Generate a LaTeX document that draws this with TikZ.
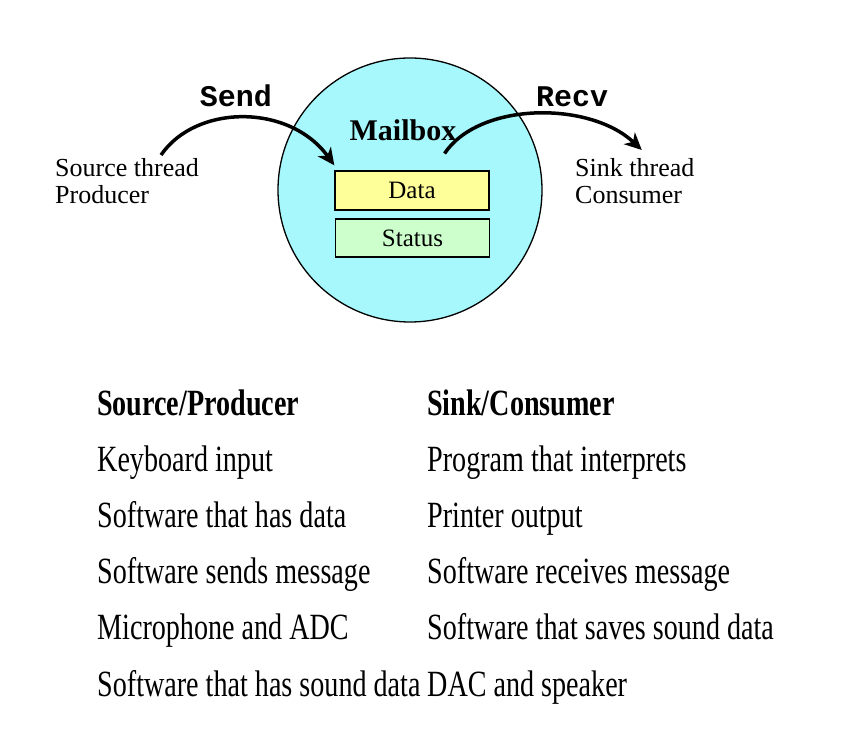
\documentclass[tikz,border=0pt]{standalone}
\usepackage{fontspec}
\setmainfont{Liberation Serif}
\newfontfamily\tablefont[FakeStretch=0.76]{Liberation Serif}
\newfontfamily\codefont{Liberation Mono}
\usetikzlibrary{arrows.meta}
\definecolor{mbcyan}{RGB}{166,248,252}
\definecolor{datayellow}{RGB}{255,255,153}
\definecolor{statgreen}{RGB}{204,255,204}

\begin{document}
\begin{tikzpicture}[x=1pt,y=1pt,
    flow/.style={line width=3.5pt,-{Stealth[length=17pt,width=16pt,inset=5pt]}},
    slot/.style={draw,line width=1.3pt,minimum width=154pt,minimum height=39pt,inner sep=0pt,font=\fontsize{25}{27}\selectfont},
    thread/.style={align=left,anchor=north west,inner sep=0pt,font=\fontsize{26}{27}\selectfont},
    call/.style={anchor=base,inner sep=0pt,font=\codefont\bfseries\fontsize{30}{32}\selectfont},
    cell/.style={anchor=base west,inner sep=0pt,font=\tablefont\fontsize{37}{40}\selectfont}]
        \useasboundingbox (0,0) rectangle (848,736);
        % mailbox
        \node[circle,draw,line width=1.3pt,fill=mbcyan,minimum size=264pt] (mailbox) at (410,546) {};
        \node[anchor=base,inner sep=0pt,font=\bfseries\fontsize{30}{32}\selectfont] (mbtitle) at (403,595) {Mailbox};
        \node[slot,fill=datayellow] (data) at (412,545.5) {Data};
        \node[slot,fill=statgreen,minimum height=38pt] (status) at (412.5,498) {Status};
        % threads
        \node[thread] (src) at (55,578) {Source thread\\Producer};
        \node[thread] (snk) at (575,578) {Sink thread\\Consumer};
        \node[call] (send) at (236,629) {Send};
        \node[call] (recv) at (572,629) {Recv};
        \draw[flow] ([xshift=34pt,yshift=3pt]src.north) .. controls +(35,51) and +(-45,62) .. ([yshift=5pt]data.north west);
        \draw[flow] ([xshift=-12pt,yshift=-12pt]mbtitle.south east) .. controls +(35,52) and +(-52,49) .. ([xshift=7pt,yshift=8pt]snk.north);
        % table
        \node[cell,font=\tablefont\bfseries\fontsize{37}{40}\selectfont] (prodhead) at (97,320) {Source/Producer};
        \node[cell,font=\tablefont\bfseries\fontsize{37}{40}\selectfont] (conshead) at (427,320) {Sink/Consumer};
        \foreach \i/\a/\b in {1/Keyboard input/Program that interprets,
                              2/Software that has data/Printer output,
                              3/Software sends message/Software receives message,
                              4/Microphone and ADC/Software that saves sound data,
                              5/Software that has sound data/DAC and speaker}{
            \node[cell] (prod\i) at (97,320-56*\i) {\a};
            \node[cell] (cons\i) at (427,320-56*\i) {\b};
        }
    \end{tikzpicture}
\end{document}
